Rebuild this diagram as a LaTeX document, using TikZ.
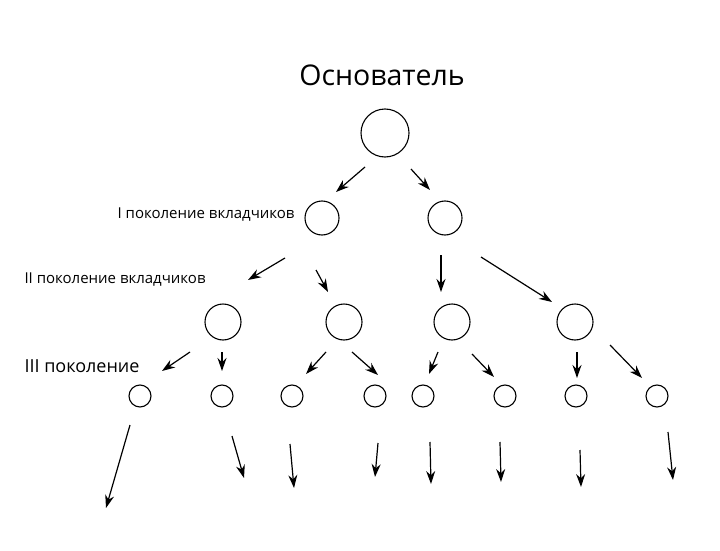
\documentclass[tikz,border=0pt]{standalone}
\usepackage{fontspec}
\setmainfont{Open Sans}
\usetikzlibrary{arrows.meta}

\begin{document}
\begin{tikzpicture}[x=1pt, y=-1pt, >={Stealth[length=13pt,width=9pt]},
  member/.style={circle, draw=black, line width=1.1pt, inner sep=0pt},
  pil/.style={->, line width=1.2pt}]
 \useasboundingbox (0,0) rectangle (720,551);
 \node (title) at (382,75) {\fontsize{28.5}{32}\selectfont Основатель};
 \node[member, minimum size=48pt] (root) at (385,133) {};
 \node[member, minimum size=34pt] (a1) at (322,218) {};
 \node[member, minimum size=34pt] (a2) at (445,218) {};
 \node[anchor=east] (lab1) at (298,215) {\fontsize{15}{18}\selectfont I поколение вкладчиков};
 \node[anchor=west] (lab2) at (21,280) {\fontsize{15}{18}\selectfont II поколение вкладчиков};
 \node[anchor=west] (lab3) at (21,366) {\fontsize{18}{21}\selectfont III поколение};
 \foreach \x [count=\i] in {223,344,452,575}
  \node[member, minimum size=36pt] (b\i) at (\x,322) {};
 \foreach \x [count=\i] in {140,222,292,375,423,505,576,657}
  \node[member, minimum size=22pt] (c\i) at (\x,396) {};
 % arrows between generations
 \foreach \sx/\sy/\ex/\ey in {365/167/336/192, 411/169/430/190,
   285/258/248/280, 316/270/328/292, 441/255/441/292, 481/257/552/302,
   190/352/162/371, 222/352/222/371, 326/352/306/374, 352/352/378/375,
   438/352/429/374, 472/354/494/377, 577/352/577/378, 610/345/642/378,
   130/425/106/508, 232/436/244/478, 290/444/294/488, 378/443/375/477,
   430/442/431/484, 500/442/501/482, 580/450/581/487, 668/432/673/480}
  \draw[pil] (\sx,\sy) coordinate (s) -- (\ex,\ey) coordinate (e);
\end{tikzpicture}
\end{document}
